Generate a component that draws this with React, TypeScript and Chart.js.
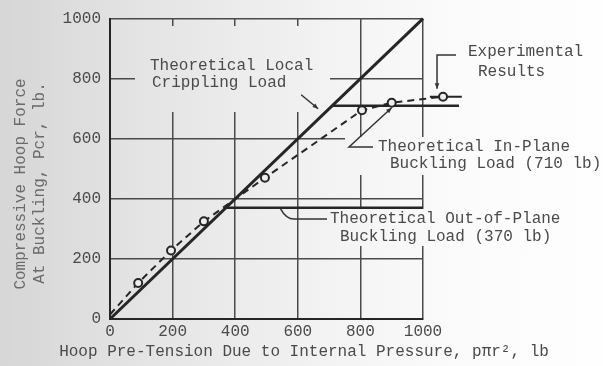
import { useEffect, useRef } from "react";
import { Chart, registerables } from "chart.js";

Chart.register(...registerables);

// Axis ticks (lb)
const tickValues = [0, 200, 400, 600, 800, 1000];
const axisMin = 0;
const axisMax = 1000;

// Theoretical local crippling load: P = pπr²
const cripplingX = [0, 1000];
const cripplingY = [0, 1000];

// Theoretical in-plane buckling load (710 lb)
const inPlaneX = [710, 1115];
const inPlaneY = [710, 710];

// Theoretical out-of-plane buckling load (370 lb)
const outOfPlaneX = [370, 1000];
const outOfPlaneY = [370, 370];

// Experimental results
const experimentalX = [0, 90, 195, 300, 495, 805, 900, 1064];
const experimentalY = [15, 120, 228, 325, 470, 695, 720, 740];
const experimentalMarked = [false, true, true, true, true, true, true, true];

// Scatter band on the last test point
const rangeX = [1022, 1124];
const rangeY = [740, 740];

const MONO = '"Liberation Mono", "DejaVu Sans Mono", monospace';
const INK = "#262626";
const TEXT = "#4a4a4a";
const MARKER_FILL = "#efefef";

const zip = (xs: number[], ys: number[]) => xs.map((x, i) => ({ x, y: ys[i] }));

function arrowHead(ctx: CanvasRenderingContext2D, fx: number, fy: number, tx: number, ty: number, size = 6) {
  const a = Math.atan2(ty - fy, tx - fx);
  ctx.beginPath();
  ctx.moveTo(tx, ty);
  ctx.lineTo(tx - size * Math.cos(a - 0.4), ty - size * Math.sin(a - 0.4));
  ctx.lineTo(tx - size * Math.cos(a + 0.4), ty - size * Math.sin(a + 0.4));
  ctx.closePath();
  ctx.fill();
}

const annotations = {
  id: "annotations",
  beforeDatasetsDraw(chart: any) {
    const ctx: CanvasRenderingContext2D = chart.ctx;
    // blank the paper behind the callout texts
    ctx.clearRect(135, 26, 195, 86);
    ctx.clearRect(345, 137, 258, 38);
    ctx.clearRect(322, 209, 281, 37);
  },
  afterDatasetsDraw(chart: any) {
    // Chart.js skips point markers outside the frame; draw those ourselves
    const ctx: CanvasRenderingContext2D = chart.ctx;
    const area = chart.chartArea;
    const meta = chart.getDatasetMeta(0);
    ctx.save();
    meta.data.forEach((pt: any, i: number) => {
      if (!experimentalMarked[i]) return;
      if (pt.x <= area.right + 4 && pt.x >= area.left - 4) return;
      ctx.beginPath();
      ctx.arc(pt.x, pt.y, 4, 0, Math.PI * 2);
      ctx.fillStyle = MARKER_FILL;
      ctx.fill();
      ctx.lineWidth = 2;
      ctx.strokeStyle = INK;
      ctx.stroke();
    });
    ctx.restore();
  },
  afterDraw(chart: any) {
    const ctx: CanvasRenderingContext2D = chart.ctx;
    const X = (v: number) => chart.scales.x.getPixelForValue(v);
    const Y = (v: number) => chart.scales.y.getPixelForValue(v);

    ctx.save();
    ctx.font = `16px ${MONO}`;
    ctx.fillStyle = TEXT;
    ctx.textBaseline = "middle";
    ctx.textAlign = "left";

    ctx.fillText("Theoretical Local", 150, 66);
    ctx.fillText("Crippling Load", 152, 83);

    ctx.fillText("Experimental", 468, 52);
    ctx.fillText("Results", 478, 72);

    ctx.fillText("Theoretical In-Plane", 378, 147);
    ctx.fillText("Buckling Load (710 lb)", 390, 164);

    ctx.fillText("Theoretical Out-of-Plane", 330, 219);
    ctx.fillText("Buckling Load (370 lb)", 340, 237);

    // axis titles
    ctx.textAlign = "center";
    ctx.fillText("Hoop Pre-Tension Due to Internal Pressure, p\u03C0r\u00B2, lb", 304, 352);

    ctx.fillStyle = "#6a6a6a";
    ctx.save();
    ctx.translate(21, 184);
    ctx.rotate(-Math.PI / 2);
    ctx.fillText("Compressive Hoop Force", 0, 0);
    ctx.restore();
    ctx.save();
    ctx.translate(40, 183);
    ctx.rotate(-Math.PI / 2);
    ctx.fillText("At Buckling, Pcr, lb.", 0, 0);
    ctx.restore();

    // leader lines
    ctx.strokeStyle = "#333";
    ctx.fillStyle = "#333";
    ctx.lineWidth = 1.5;

    // local crippling
    const cTipX = X(665), cTipY = Y(700);
    ctx.beginPath();
    ctx.moveTo(cTipX - 17, cTipY - 14);
    ctx.lineTo(cTipX, cTipY);
    ctx.stroke();
    arrowHead(ctx, cTipX - 17, cTipY - 14, cTipX, cTipY);

    // experimental
    const eX = X(experimentalX[experimentalX.length - 1]) - 6;
    const eY = Y(experimentalY[experimentalY.length - 1]) - 8;
    ctx.beginPath();
    ctx.moveTo(456, 55);
    ctx.lineTo(eX, 55);
    ctx.lineTo(eX, eY);
    ctx.stroke();
    arrowHead(ctx, eX, 55, eX, eY);

    // in-plane
    const iX = X(900), iY = Y(inPlaneY[0]) + 2;
    ctx.beginPath();
    ctx.moveTo(373, 147);
    ctx.lineTo(349, 147);
    ctx.lineTo(iX, iY);
    ctx.stroke();
    arrowHead(ctx, 349, 147, iX, iY);

    // out-of-plane
    const oX = X(545), oY = Y(outOfPlaneY[0]) + 1;
    ctx.beginPath();
    ctx.moveTo(327, 219);
    ctx.lineTo(294, 219);
    ctx.quadraticCurveTo(286, 219, oX, oY);
    ctx.stroke();

    ctx.restore();
  },
};

const fixedTicks = (scale: any) => {
  scale.ticks = tickValues.map((v) => ({ value: v }));
};

// set the range after the data limits so points past the frame are still drawn
const fixedRange = (scale: any) => {
  scale.min = axisMin;
  scale.max = axisMax;
};

export default function App() {
  const canvasRef = useRef<HTMLCanvasElement | null>(null);

  useEffect(() => {
    const canvas = canvasRef.current;
    if (!canvas) return;

    const chart = new Chart(canvas, {
      type: "scatter",
      data: {
        datasets: [
          {
            data: zip(experimentalX, experimentalY),
            showLine: true,
            borderColor: INK,
            borderWidth: 2,
            borderDash: [7, 5],
            pointRadius: experimentalMarked.map((m) => (m ? 4 : 0)),
            pointBackgroundColor: MARKER_FILL,
            pointBorderColor: INK,
            pointBorderWidth: 2,
            clip: false,
          },
          {
            data: zip(rangeX, rangeY),
            showLine: true,
            borderColor: INK,
            borderWidth: 2,
            pointRadius: 0,
            clip: false,
          },
          {
            data: zip(cripplingX, cripplingY),
            showLine: true,
            borderColor: INK,
            borderWidth: 3,
            pointRadius: 0,
            clip: false,
          },
          {
            data: zip(inPlaneX, inPlaneY),
            showLine: true,
            borderColor: INK,
            borderWidth: 2.5,
            pointRadius: 0,
            clip: false,
          },
          {
            data: zip(outOfPlaneX, outOfPlaneY),
            showLine: true,
            borderColor: INK,
            borderWidth: 2.5,
            pointRadius: 0,
            clip: false,
          },
        ],
      },
      options: {
        animation: false,
        responsive: false,
        devicePixelRatio: 1,
        events: [],
        layout: { padding: { top: 12, right: 180, bottom: 0, left: 0 } },
        plugins: {
          legend: { display: false },
          tooltip: { enabled: false },
        },
        scales: {
          x: {
            type: "linear",
            afterDataLimits: fixedRange,
            afterBuildTicks: fixedTicks,
            afterFit: (s: any) => {
              s.height = 47;
            },
            grid: { color: "#4a4a4a", lineWidth: 1.5, drawTicks: false },
            border: { display: true, color: INK, width: 2 },
            ticks: {
              padding: 3,
              color: TEXT,
              font: { family: MONO, size: 16 },
              maxRotation: 0,
              callback: (v: any) => String(v),
            },
          },
          y: {
            type: "linear",
            afterDataLimits: fixedRange,
            afterBuildTicks: fixedTicks,
            afterFit: (s: any) => {
              s.width = 110;
            },
            grid: { color: "#4a4a4a", lineWidth: 1.5, drawTicks: false },
            border: { display: true, color: INK, width: 2 },
            ticks: {
              padding: 9,
              color: TEXT,
              font: { family: MONO, size: 16 },
              callback: (v: any) => String(v),
            },
          },
        },
      },
      plugins: [annotations],
    });

    return () => chart.destroy();
  }, []);

  return (
    <div style={{ position: "fixed", left: 0, top: 0, width: 603, height: 366 }}>
      <canvas
        ref={canvasRef}
        width={603}
        height={366}
        style={{
          display: "block",
          width: 603,
          height: 366,
          background:
            "linear-gradient(90deg, #d6d6d6 0%, #e2e2e2 20%, #ececec 40%, #f6f6f6 62%, #fcfcfc 80%, #fefefe 100%)",
        }}
      />
    </div>
  );
}
